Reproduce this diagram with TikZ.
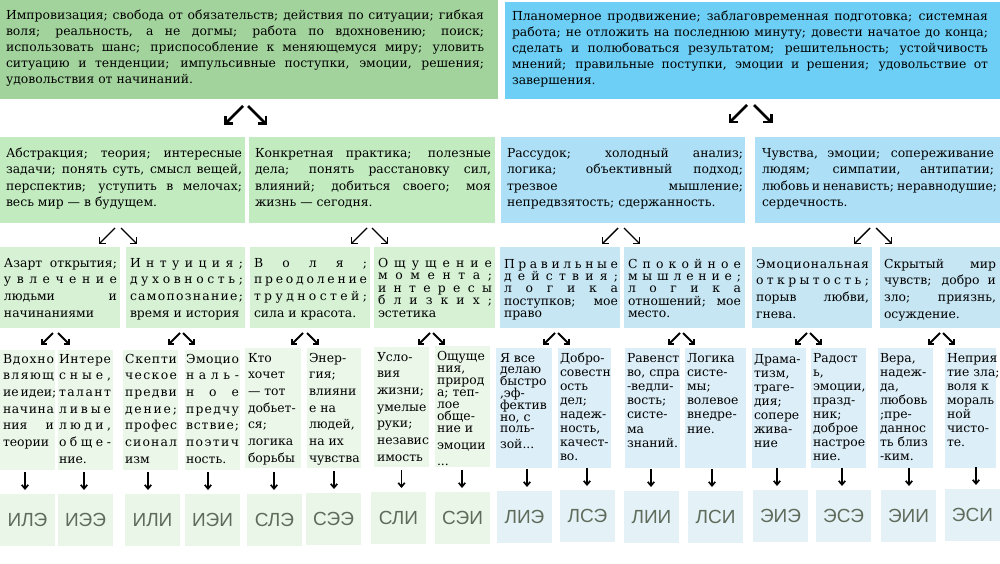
\documentclass[tikz,border=0pt]{standalone}
\usepackage{fontspec}
\setmainfont{DejaVu Serif}
\newfontfamily\lblfont{Liberation Sans}
\usetikzlibrary{arrows.meta}
\definecolor{cTL}{HTML}{A3D39C}
\definecolor{cTR}{HTML}{6DCFF6}
\definecolor{cG2}{HTML}{C3EBC0}
\definecolor{cB2}{HTML}{ADE0F6}
\definecolor{cG3}{HTML}{D6F1D4}
\definecolor{cB3}{HTML}{C6E6F3}
\definecolor{cG4}{HTML}{EBF7E9}
\definecolor{cB4}{HTML}{DCEEF7}
\definecolor{cG5}{HTML}{EAF6E8}
\definecolor{cB5}{HTML}{E4F2F8}
\definecolor{cLbl}{HTML}{5F6B5B}
\makeatletter
\newcommand\txtstrut{\vrule height 11pt depth 4pt width 0pt\relax}
\newcommand\LnL[1]{\hbox to\hsize{\txtstrut#1\hss}}
\newcommand\LnJ[1]{\hbox to\hsize{\txtstrut#1}}
\newcommand\LnS[1]{\hbox to\hsize{\txtstrut\spr@loop#1\@nil}}
\def\spr@loop#1#2\@nil{#1\ifx\relax#2\relax\else\hfill\spr@loop#2\@nil\fi}
\makeatother
% #1 width, #2 height, #3 baselineskip, #4 top kern, #5 left pad, #6 right pad, #7 lines
\newcommand\BoxTxt[7]{\hbox{\kern#5pt\vbox to#2pt{\hsize=\dimexpr#1pt-#5pt-#6pt\relax\baselineskip=#3pt\relax\lineskip=0pt\lineskiplimit=-\maxdimen\kern#4pt\relax#7\vss}\kern#6pt}}
\newcommand\ArrPair[6]{%
  \draw[#6] ([xshift=#2pt,yshift=-#4pt]#1.south) -- ++(-#5,#5);
  \draw[#6] ([xshift=#3pt,yshift=-#4pt]#1.south) -- ++(#5,#5);}
\newcommand\mainsz{\fontsize{12.4pt}{16pt}\selectfont}
\tikzset{
  tbox/.style={inner sep=0pt, outer sep=0pt, anchor=north west, font=\mainsz},
  lbl/.style={inner sep=0pt, outer sep=0pt, anchor=north west, text=cLbl,
    font=\lblfont\fontsize{19pt}{19pt}\selectfont, minimum width=55pt, minimum height=52pt},
  arrA/.style={line width=2.5pt, -{Straight Barb[angle=90:8pt]}},
  arrB/.style={line width=1.4pt, -{Straight Barb[angle=90:6pt]}},
  arrC/.style={line width=1.8pt, -{Straight Barb[angle=90:5pt]}},
  darr/.style={line width=1.7pt, -{Straight Barb[angle=80:5pt]}}
}
\begin{document}
\begin{tikzpicture}[x=1pt,y=-1pt]
\useasboundingbox[fill=white] (0,0) rectangle (1000,564);
% ---------- row 1
\node[tbox,fill=cTL] (TL) at (0,0) {\BoxTxt{498}{99}{16}{9}{6}{14}{%
  \LnJ{Импровизация; свобода от обязательств; действия по ситуации; гибкая}
  \LnJ{воля; реальность, а не догмы; работа по вдохновению; поиск;}
  \LnJ{использовать шанс; приспособление к меняющемуся миру; уловить}
  \LnJ{ситуацию и тенденции; импульсивные поступки, эмоции, решения;}
  \LnL{удовольствия от начинаний.}}};
\node[tbox,fill=cTR] (TR) at (505,2) {\BoxTxt{495}{97}{16}{8}{7}{12}{%
  \LnJ{Планомерное продвижение; заблаговременная подготовка; системная}
  \LnJ{работа; не отложить на последнюю минуту; довести начатое до конца;}
  \LnJ{сделать и полюбоваться результатом; решительность; устойчивость}
  \LnJ{мнений; правильные поступки, эмоции и решения; удовольствие от}
  \LnL{завершения.}}};
% ---------- row 2
\node[tbox,fill=cG2] (S1) at (0,137) {\BoxTxt{245}{86}{16.6}{9}{6}{3}{%
  \LnJ{Абстракция; теория; интересные}
  \LnJ{задачи; понять суть, смысл вещей,}
  \LnJ{перспектив; уступить в мелочах;}
  \LnL{весь мир — в будущем.}}};
\node[tbox,fill=cG2] (S2) at (249,137) {\BoxTxt{246}{86}{16.6}{9}{6}{4}{%
  \LnJ{Конкретная практика; полезные}
  \LnJ{дела; понять расстановку сил,}
  \LnJ{влияний; добиться своего; моя}
  \LnL{жизнь — сегодня.}}};
\node[tbox,fill=cB2] (S3) at (501,137) {\BoxTxt{244}{86}{16.6}{9}{6}{2}{%
  \LnJ{Рассудок; холодный анализ;}
  \LnJ{логика; объективный подход;}
  \LnJ{трезвое мышление;}
  \LnL{непредвзятость; сдержанность.}}};
\node[tbox,fill=cB2] (S4) at (755,137) {\BoxTxt{245}{86}{16.6}{9}{7}{6}{%
  \LnJ{Чувства, эмоции; сопереживание}
  \LnJ{людям; симпатии, антипатии;}
  \LnJ{любовь и ненависть; неравнодушие;}
  \LnL{сердечность.}}};
% ---------- row 3
\node[tbox,fill=cG3] (M1) at (0,247) {\BoxTxt{120}{81}{16.7}{9}{4}{3}{%
  \LnJ{Азарт открытия;}
  \LnS{увлечение}
  \LnJ{людьми и}
  \LnL{начинаниями}}};
\node[tbox,fill=cG3] (M2) at (126,247) {\BoxTxt{119}{81}{16.7}{9}{4}{2}{%
  \LnS{Интуиция;}
  \LnS{духовность;}
  \LnS{самопознание;}
  \LnL{время и история}}};
\node[tbox,fill=cG3] (M3) at (250,247) {\BoxTxt{120}{81}{16.7}{9}{4}{3}{%
  \LnS{Воля;}
  \LnS{преодоление}
  \LnS{трудностей;}
  \LnL{сила и красота.}}};
\node[tbox,fill=cG3] (M4) at (374,247) {\BoxTxt{121}{81}{12.5}{9}{4}{3}{%
  \LnS{Ощущение}
  \LnS{момента;}
  \LnS{интересы}
  \LnS{близких;}
  \LnL{эстетика}}};
\node[tbox,fill=cB3] (M5) at (500,247) {\BoxTxt{120}{81}{12.4}{10}{4}{2}{%
  \LnS{Правильные}
  \LnS{действия;}
  \LnS{логика}
  \LnJ{поступков; мое}
  \LnL{право}}};
\node[tbox,fill=cB3] (M6) at (624,247) {\BoxTxt{121}{81}{12.4}{10}{4}{4}{%
  \LnS{Спокойное}
  \LnS{мышление;}
  \LnS{логика}
  \LnJ{отношений; мое}
  \LnL{место.}}};
\node[tbox,fill=cB3] (M7) at (752,247) {\BoxTxt{120}{81}{16.7}{10}{4}{3}{%
  \LnS{Эмоциональная}
  \LnS{открытость;}
  \LnJ{порыв любви,}
  \LnL{гнева.}}};
\node[tbox,fill=cB3] (M8) at (880,247) {\BoxTxt{120}{81}{16.7}{10}{4}{4}{%
  \LnJ{Скрытый мир}
  \LnJ{чувств; добро и}
  \LnJ{зло; приязнь,}
  \LnL{осуждение.}}};
% ---------- row 4
\node[tbox,fill=cG4] (B1) at (0,350) {\BoxTxt{55}{120}{16.7}{2}{3}{1}{%
  \LnS{Вдохно}\LnS{вляющ}\LnJ{ие\hskip 2pt plus 1fil идеи;}\LnS{начина}\LnJ{ния и}\LnL{теории}}};
\node[tbox,fill=cG4] (B2) at (58,350) {\BoxTxt{55}{120}{16.7}{2}{1}{2}{%
  \LnS{Интере}\LnS{сные,}\LnS{талант}\LnS{ливые}\LnS{люди,}\LnS{обще-}\LnL{ние.}}};
\node[tbox,fill=cG4] (B3) at (123,350) {\BoxTxt{55}{120}{16.7}{2}{2}{1}{%
  \LnS{Скепти}\LnS{ческое}\LnS{предви}\LnS{дение;}\LnS{профес}\LnS{сионал}\LnL{изм}}};
\node[tbox,fill=cG4] (B4) at (185,350) {\BoxTxt{55}{120}{16.7}{2}{1}{1}{%
  \LnS{Эмоцио}\LnS{наль-}\LnS{ное}\LnS{предчу}\LnS{вствие;}\LnS{поэтич}\LnL{ность.}}};
\node[tbox,fill=cG4] (B5) at (245,348) {\BoxTxt{56}{120}{16.7}{3}{3}{2}{%
  \LnL{Кто}\LnL{хочет}\LnL{— тот}\LnL{добьет-}\LnL{ся;}\LnL{логика}\LnL{борьбы}}};
\node[tbox,fill=cG4] (B6) at (307,348) {\BoxTxt{54}{120}{16.7}{3}{2}{1}{%
  \LnL{Энер-}\LnL{гия;}\LnL{влияни}\LnL{е на}\LnL{людей,}\LnL{на их}\LnL{чувства}}};
\node[tbox,fill=cG4] (B7) at (374,347) {\BoxTxt{55}{120}{16.7}{3}{3}{1}{%
  \LnL{Усло-}\LnL{вия}\LnL{жизни;}\LnL{умелые}\LnL{руки;}\LnL{независ}\LnL{имость}}};
\node[tbox,fill=cG4] (B8) at (435,346) {\BoxTxt{55}{121}{12}{3}{2}{1}{%
  \LnL{Ощуще}\LnL{ния,}\LnL{природ}\LnL{а; теп-}\LnL{лое}\LnL{обще-}\LnL{ние и}\kern5pt
  \LnL{эмоции}\kern4pt\LnL{...}}};
\node[tbox,fill=cB4] (B9) at (496,348) {\BoxTxt{56}{120}{11.8}{3}{4}{1}{%
  \LnL{Я все}\LnL{делаю}\LnL{быстро}\LnL{,эф-}\LnL{фектив}\LnL{но, с}\LnL{поль-}\kern3.5pt
  \LnL{зой...}}};
\node[tbox,fill=cB4] (B10) at (558,348) {\BoxTxt{53}{120}{14.1}{3}{2}{1}{%
  \LnL{Добро-}\LnL{совестн}\LnL{ость}\LnL{дел;}\LnL{надеж-}\LnL{ность,}\LnL{качест-}\LnL{во.}}};
\node[tbox,fill=cB4] (B11) at (625,348) {\BoxTxt{55}{120}{14.2}{3}{2}{1}{%
  \LnL{Равенст}\LnL{во, спра}\LnL{-ведли-}\LnL{вость;}\LnL{систе-}\LnL{ма}\LnL{знаний.}}};
\node[tbox,fill=cB4] (B12) at (685,348) {\BoxTxt{61}{120}{14.2}{3}{2}{2}{%
  \LnL{Логика}\LnL{систе-}\LnL{мы;}\LnL{волевое}\LnL{внедре-}\LnL{ние.}}};
\node[tbox,fill=cB4] (B13) at (752,348) {\BoxTxt{54}{120}{14}{4}{2}{1}{%
  \LnL{Драма-}\LnL{тизм,}\LnL{траге-}\LnL{дия;}\LnL{сопере}\LnL{жива-}\LnL{ние}}};
\node[tbox,fill=cB4] (B14) at (811,348) {\BoxTxt{55}{120}{14}{3}{2}{1}{%
  \LnL{Радост}\LnL{ь,}\LnL{эмоции,}\LnL{празд-}\LnL{ник;}\LnL{доброе}\LnL{настрое}\LnL{ние.}}};
\node[tbox,fill=cB4] (B15) at (878,348) {\BoxTxt{55}{120}{14}{3}{2}{1}{%
  \LnL{Вера,}\LnL{надеж-}\LnL{да,}\LnL{любовь}\LnL{;пре-}\LnL{даннос}\LnL{ть близ}\LnL{-ким.}}};
\node[tbox,fill=cB4] (B16) at (945,348) {\BoxTxt{51}{120}{14}{3}{2}{1}{%
  \LnL{Неприя}\LnL{тие зла;}\LnL{воля к}\LnL{мораль}\LnL{ной}\LnL{чисто-}\LnL{те.}}};
% ---------- row 5
\node[lbl,fill=cG5] (C1) at (0,494) {ИЛЭ};
\node[lbl,fill=cG5] (C2) at (58,494) {ИЭЭ};
\node[lbl,fill=cG5] (C3) at (125,494) {ИЛИ};
\node[lbl,fill=cG5] (C4) at (185,494) {ИЭИ};
\node[lbl,fill=cG5] (C5) at (247,494) {СЛЭ};
\node[lbl,fill=cG5] (C6) at (306,493) {СЭЭ};
\node[lbl,fill=cG5] (C7) at (371,492) {СЛИ};
\node[lbl,fill=cG5] (C8) at (435,492) {СЭИ};
\node[lbl,fill=cB5] (C9) at (497,491) {ЛИЭ};
\node[lbl,fill=cB5] (C10) at (560,490) {ЛСЭ};
\node[lbl,fill=cB5] (C11) at (624,491) {ЛИИ};
\node[lbl,fill=cB5] (C12) at (688,491) {ЛСИ};
\node[lbl,fill=cB5] (C13) at (753,490) {ЭИЭ};
\node[lbl,fill=cB5] (C14) at (816,490) {ЭСЭ};
\node[lbl,fill=cB5] (C15) at (881,490) {ЭИИ};
\node[lbl,fill=cB5] (C16) at (945,489) {ЭСИ};
% ---------- arrows
\ArrPair{TL}{-6}{-1}{7}{19}{arrA}
\ArrPair{TR}{-5.5}{1.5}{6}{18.5}{arrA}
\ArrPair{S1}{-7.5}{-1.5}{5}{16}{arrB}
\ArrPair{S2}{-5}{0}{5}{16}{arrB}
\ArrPair{S3}{-5}{1}{5}{16}{arrB}
\ArrPair{S4}{-7.5}{-1.5}{5}{16}{arrB}
\ArrPair{M1}{-7}{-2}{5}{12}{arrC}
\ArrPair{M2}{-5.5}{-2.5}{5}{12}{arrC}
\ArrPair{M3}{-7}{-3}{5}{12}{arrC}
\ArrPair{M4}{-4.5}{-1.5}{5}{12}{arrC}
\ArrPair{M5}{-5}{-2}{5}{12}{arrC}
\ArrPair{M6}{-4.5}{-1.5}{5}{12}{arrC}
\ArrPair{M7}{-5}{-2}{5}{12}{arrC}
\ArrPair{M8}{0}{3}{5}{12}{arrC}
\foreach \n/\dx in {1/-2.5,2/-1.5,3/-4.5,4/-4.5,5/-0.5,6/0.5,7/3,8/-0.5,9/2.5,10/-0.5,11/-0.5,12/-3.5,13/-3.5,14/-1.5,15/0.5,16/3.5}
  \draw[darr] ([xshift=\dx pt,yshift=22pt]C\n.north) -- ([xshift=\dx pt,yshift=4pt]C\n.north);
\end{tikzpicture}
\end{document}
